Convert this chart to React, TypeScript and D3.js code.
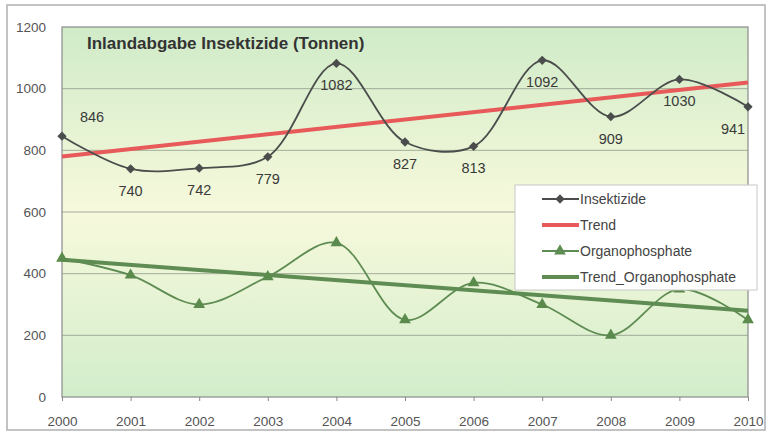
import * as d3 from "d3";
import { useEffect, useRef } from "react";

const years = [2000, 2001, 2002, 2003, 2004, 2005, 2006, 2007, 2008, 2009, 2010];
const insektizide = [846, 740, 742, 779, 1082, 827, 813, 1092, 909, 1030, 941];
const organophosphate = [450, 395, 300, 390, 500, 250, 370, 300, 200, 350, 250];
// trend lines (start / end year)
const trendYears = [2000, 2010];
const trendInsekt = [780, 1020];
const trendOrgano = [445, 280];
const yTicks = [0, 200, 400, 600, 800, 1000, 1200];
const legendItems = ["Insektizide", "Trend", "Organophosphate", "Trend_Organophosphate"];

const FONT = "'Liberation Sans', Arial, sans-serif";

export default function App() {
  const ref = useRef<SVGSVGElement>(null);

  useEffect(() => {
    const width = 767;
    const height = 432;
    const svg = d3.select(ref.current);
    svg.selectAll("*").remove();
    svg.attr("width", width).attr("height", height).style("font-family", FONT);

    const left = 62, right = 748, top = 27, bottom = 397;
    const x = d3.scaleLinear().domain([2000, 2010]).range([left, right]);
    const y = d3.scaleLinear().domain([0, 1200]).range([bottom, top]);

    // outer frame
    svg.append("rect").attr("x", 7).attr("y", 5).attr("width", 758).attr("height", 425)
      .attr("fill", "#fff").attr("stroke", "#b0b0b0").attr("stroke-width", 1.5);

    const defs = svg.append("defs");
    const grad = defs.append("linearGradient").attr("id", "bg").attr("x1", 0).attr("y1", 0).attr("x2", 0).attr("y2", 1);
    grad.append("stop").attr("offset", "0%").attr("stop-color", "#d0ebc8");
    grad.append("stop").attr("offset", "50%").attr("stop-color", "#f7f9dc");
    grad.append("stop").attr("offset", "100%").attr("stop-color", "#d2edcb");

    svg.append("rect").attr("x", left).attr("y", top).attr("width", right - left).attr("height", bottom - top)
      .attr("fill", "url(#bg)").attr("stroke", "#8a8a8a").attr("stroke-width", 1.2);

    // grid
    svg.append("g").selectAll("line").data(yTicks.filter(t => t > 0 && t < 1200)).join("line")
      .attr("x1", left).attr("x2", right).attr("y1", d => y(d)).attr("y2", d => y(d))
      .attr("stroke", "#8f9a8a").attr("stroke-width", 0.8);

    // axes
    const yAxis = svg.append("g").attr("transform", `translate(${left},0)`)
      .call(d3.axisLeft(y).tickValues(yTicks).tickFormat(d3.format("d")).tickSize(0).tickPadding(16));
    yAxis.select(".domain").remove();
    yAxis.selectAll("text").attr("fill", "#555").style("font-size", "13.5px").style("font-family", FONT);

    const xAxis = svg.append("g").attr("transform", `translate(0,${bottom})`)
      .call(d3.axisBottom(x).tickValues(years).tickFormat(d3.format("d")).tickSize(4).tickPadding(15));
    xAxis.select(".domain").remove();
    xAxis.selectAll("line").attr("stroke", "#888");
    xAxis.selectAll("text").attr("fill", "#555").style("font-size", "13.5px").style("font-family", FONT);

    // title
    svg.append("text").attr("x", 87).attr("y", 49).text("Inlandabgabe Insektizide (Tonnen)")
      .attr("fill", "#333").style("font-size", "17px").style("font-weight", "bold");

    const smooth = d3.line<number>().x((_, i) => x(years[i])).y(d => y(d)).curve(d3.curveCatmullRom.alpha(0.5));
    const straight = d3.line<number>().x((_, i) => x(trendYears[i])).y(d => y(d));

    // trend insektizide
    svg.append("path").attr("d", straight(trendInsekt)!).attr("fill", "none").attr("stroke", "#e8595a").attr("stroke-width", 4);

    // insektizide series
    svg.append("path").attr("d", smooth(insektizide)!).attr("fill", "none").attr("stroke", "#4a4d4c").attr("stroke-width", 1.8);
    const diamond = d3.symbol().type(d3.symbolDiamond2).size(55);
    svg.append("g").selectAll("path").data(insektizide).join("path")
      .attr("d", diamond()!)
      .attr("transform", (d, i) => `translate(${x(years[i])},${y(d)})`)
      .attr("fill", "#4a4d4c");

    // data labels
    svg.append("g").selectAll("text").data(insektizide).join("text")
      .attr("x", (d, i) => x(years[i]) + (i === 0 ? 30 : i === insektizide.length - 1 ? -15 : 0))
      .attr("y", (d, i) => y(d) + (i === 0 ? -14 : 27))
      .attr("text-anchor", "middle").attr("fill", "#3a3a3a").style("font-size", "14.5px")
      .text(d => d);

    // trend organophosphate
    svg.append("path").attr("d", straight(trendOrgano)!).attr("fill", "none").attr("stroke", "#5e8c52").attr("stroke-width", 4);

    // organophosphate series
    svg.append("path").attr("d", smooth(organophosphate)!).attr("fill", "none").attr("stroke", "#5e8c52").attr("stroke-width", 1.8);
    const tri = d3.symbol().type(d3.symbolTriangle).size(60);
    svg.append("g").selectAll("path").data(organophosphate).join("path")
      .attr("d", tri()!)
      .attr("transform", (d, i) => `translate(${x(years[i])},${y(d)})`)
      .attr("fill", "#5a8a4c");

    // legend
    const lg = svg.append("g").attr("transform", "translate(515,185)");
    lg.append("rect").attr("width", 242).attr("height", 105).attr("fill", "#fff").attr("stroke", "#c8c8c8");
    const colors = ["#4a4d4c", "#e8595a", "#5e8c52", "#5e8c52"];
    const widths = [1.8, 4, 1.8, 4];
    legendItems.forEach((name, i) => {
      const cy = 14 + i * 26;
      const g = lg.append("g").attr("transform", `translate(0,${cy})`);
      g.append("line").attr("x1", 27).attr("x2", 64).attr("y1", 0).attr("y2", 0)
        .attr("stroke", colors[i]).attr("stroke-width", widths[i]);
      if (i === 0) g.append("path").attr("d", diamond()!).attr("transform", "translate(45,0)").attr("fill", colors[i]);
      if (i === 2) g.append("path").attr("d", tri()!).attr("transform", "translate(45,0)").attr("fill", colors[i]);
      g.append("text").attr("x", 65).attr("y", 5).text(name).attr("fill", "#444").style("font-size", "14px");
    });
  }, []);

  return <svg ref={ref} style={{ position: "absolute", left: 0, top: 0 }} />;
}
